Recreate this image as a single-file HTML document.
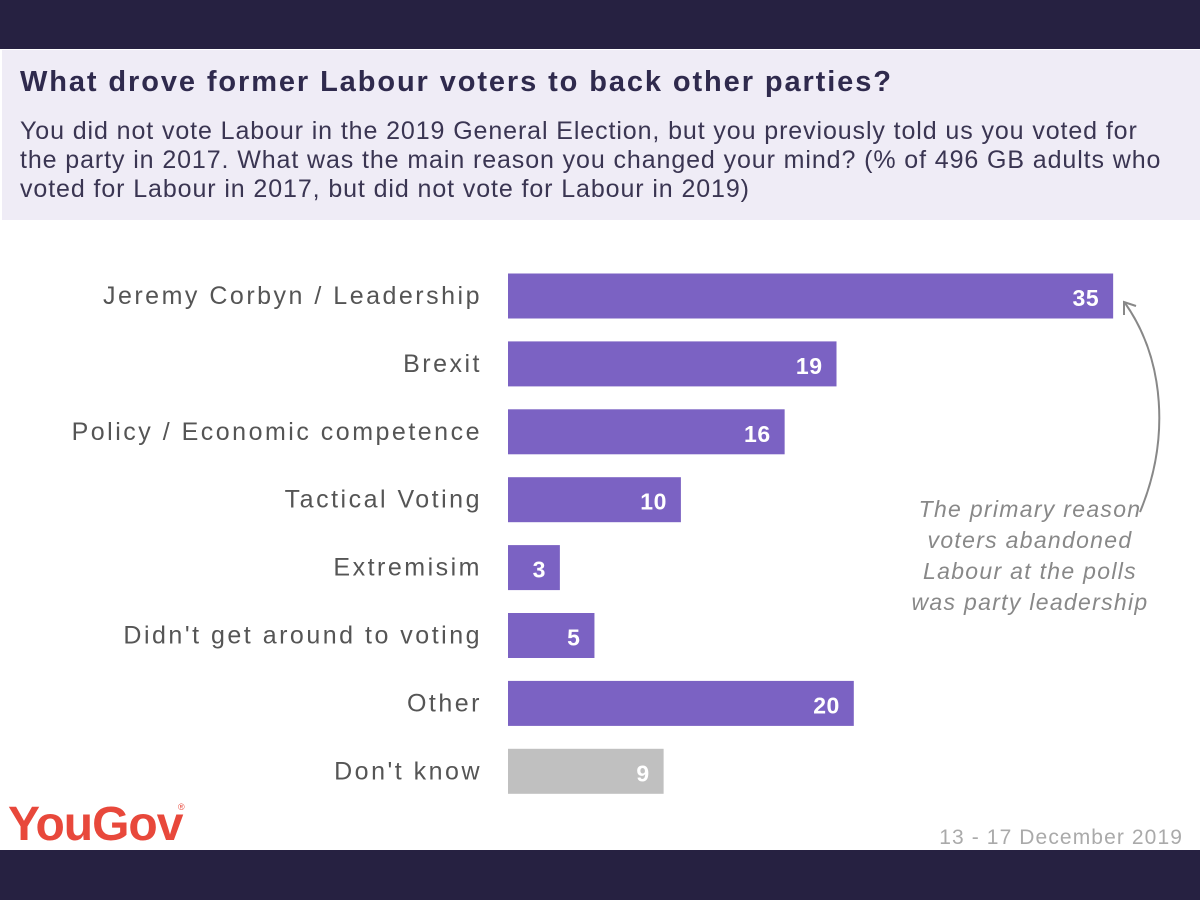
<!DOCTYPE html>
<html><head><meta charset="utf-8"><style>
body{margin:0;width:1200px;height:900px;position:relative;overflow:hidden;background:#fff;font-family:"Liberation Sans",sans-serif;}
.band{position:absolute;left:0;width:1200px;background:#262141;}
#hdr{position:absolute;left:2px;top:50px;width:1198px;height:170px;background:#efecf6;}
#title{position:absolute;left:20px;top:66px;font-size:29px;font-weight:bold;color:#2f2a4d;letter-spacing:1.9px;white-space:nowrap;}
#sub{position:absolute;left:20px;top:117px;width:1180px;font-size:25px;line-height:29px;color:#3a3552;letter-spacing:0.9px;white-space:nowrap;}
svg{position:absolute;left:0;top:0;}
</style></head><body>
<div class="band" style="top:0;height:49px"></div>
<div id="hdr"></div>
<div id="title">What drove former Labour voters to back other parties?</div>
<div id="sub">You did not vote Labour in the 2019 General Election, but you previously told us you voted for<br>the party in 2017. What was the main reason you changed your mind? (% of 496 GB adults who<br>voted for Labour in 2017, but did not vote for Labour in 2019)</div>
<svg id="chart" width="1200" height="900"></svg>
<div class="band" style="top:850px;height:50px"></div>
<script>
const categories=["Jeremy Corbyn / Leadership","Brexit","Policy / Economic competence","Tactical Voting","Extremisim","Didn't get around to voting","Other","Don't know"];
const values=[35,19,16,10,3,5,20,9];
const NS="http://www.w3.org/2000/svg";
const svg=document.getElementById('chart');
const x0=508,unit=17.29,y0=296,step=67.9,bh=45;
const xs=v=>v*unit, ys=i=>y0+i*step;
function mk(t,a){const e=document.createElementNS(NS,t);for(const k in a)e.setAttribute(k,a[k]);svg.appendChild(e);return e;}
categories.forEach((c,i)=>{
 const r=mk('rect',{x:x0,y:ys(i)-bh/2,width:xs(values[i]),height:bh,fill:i==categories.length-1?'#c0c0c0':'#7b62c3'});
 
 
 const l=mk('text',{x:482,y:ys(i)+8,'text-anchor':'end','font-size':25,'letter-spacing':2.5,fill:'#555'});l.textContent=c;
 
 
 const v=mk('text',{x:x0+xs(values[i])-14,y:ys(i)+10,'text-anchor':'end','font-size':23,'font-weight':'bold','letter-spacing':0.5,fill:'#fff'});v.textContent=values[i];
 
 
});
const ann=["The primary reason","voters abandoned","Labour at the polls","was party leadership"];
ann.forEach((t,i)=>{const e=mk('text',{x:1030,y:517+i*31,'text-anchor':'middle','font-size':23,'font-style':'italic','letter-spacing':1.3,fill:'#888'});e.textContent=t;
 
 });
const p=mk('path',{d:'M1140,512 C1170,440 1165,360 1125,303',fill:'none',stroke:'#888','stroke-width':2});


const h=mk('path',{d:'M1124,315 L1124,302 L1136,306',fill:'none',stroke:'#888','stroke-width':2});


const logo=mk('text',{x:8,y:840,'font-size':48,'font-weight':'bold',fill:'#e8483b','letter-spacing':-1});logo.textContent='YouGov';


const reg=mk('text',{x:178,y:810,'font-size':9,fill:'#e8483b'});reg.textContent='®';


const d=mk('text',{x:1183,y:844,'text-anchor':'end','font-size':21,'letter-spacing':1.1,fill:'#aaa'});d.textContent='13 - 17 December 2019';


</script>
</body></html>
